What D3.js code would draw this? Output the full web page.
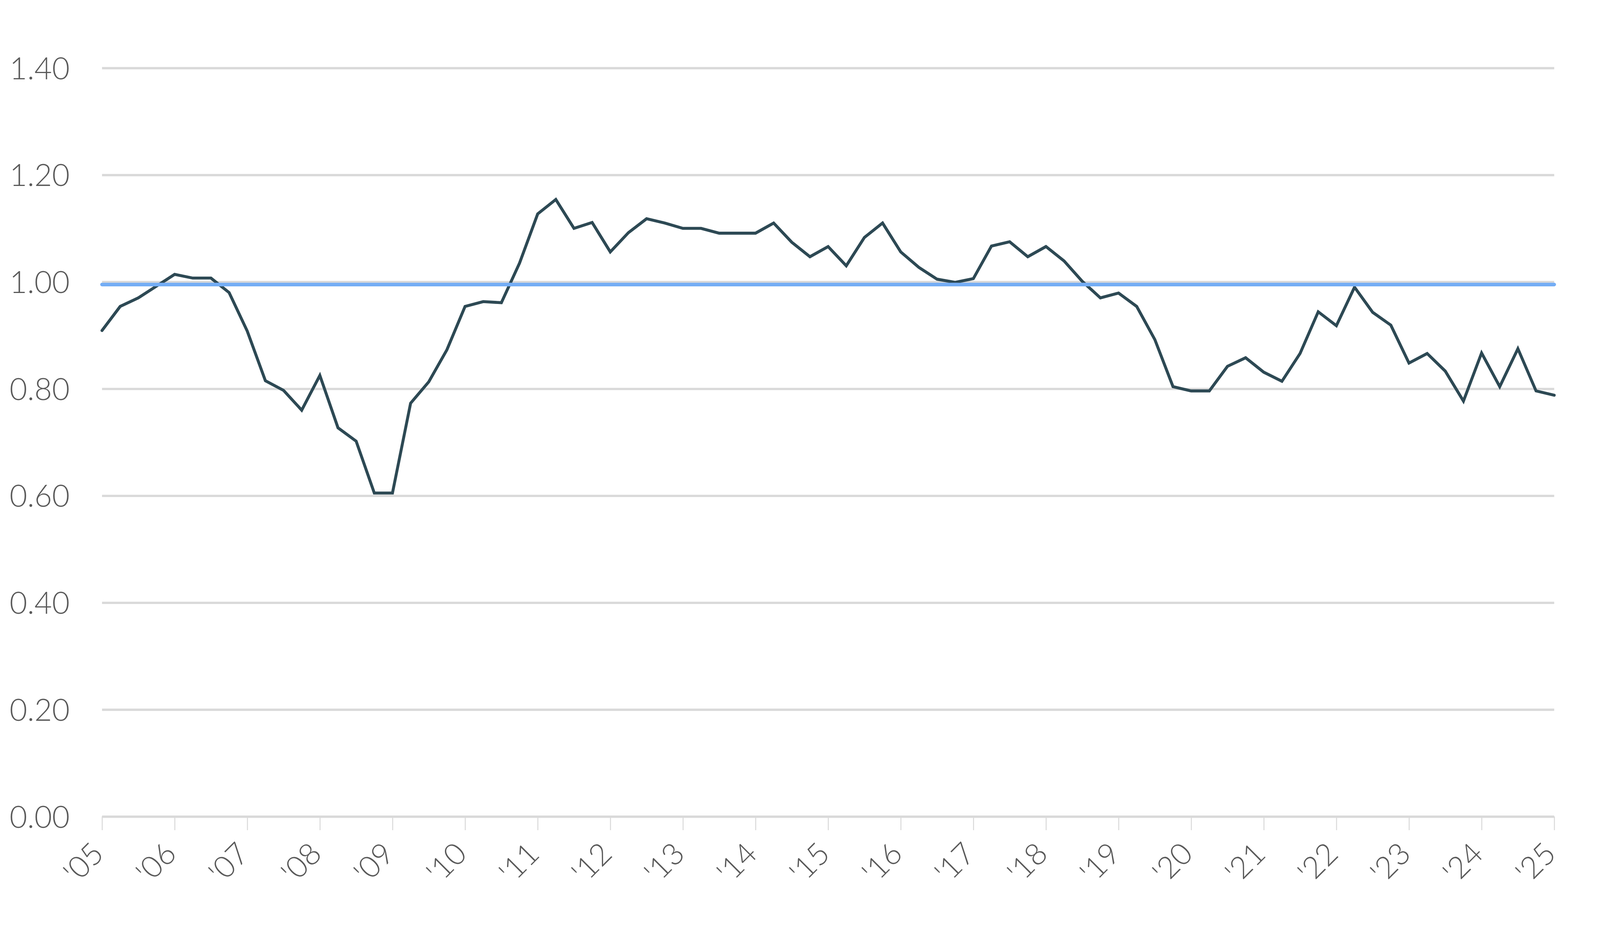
<!DOCTYPE html>
<html>
<head>
<meta charset="utf-8">
<script src="https://cdn.jsdelivr.net/npm/d3@7"></script>
<style>
  html, body { margin: 0; padding: 0; background: #fff; overflow: hidden; }
  svg { display: block; }
</style>
</head>
<body>
<div id="chart"></div>
<script>
// quarterly series, Q1 2005 .. Q1 2025
const startYear = 2005;
const values = [
  0.909, 0.954, 0.970, 0.992, 1.014, 1.007, 1.007, 0.980,
  0.908, 0.815, 0.797, 0.760, 0.825, 0.727, 0.702, 0.605,
  0.605, 0.773, 0.813, 0.873, 0.954, 0.963, 0.961, 1.035,
  1.127, 1.154, 1.100, 1.111, 1.056, 1.092, 1.118, 1.110,
  1.100, 1.100, 1.091, 1.091, 1.091, 1.110, 1.074, 1.047,
  1.066, 1.030, 1.083, 1.110, 1.056, 1.027, 1.005, 0.999,
  1.006, 1.067, 1.075, 1.047, 1.066, 1.039, 1.001, 0.970,
  0.979, 0.954, 0.892, 0.804, 0.796, 0.796, 0.842, 0.858,
  0.831, 0.814, 0.866, 0.944, 0.918, 0.990, 0.943, 0.919,
  0.848, 0.866, 0.833, 0.777, 0.867, 0.804, 0.875, 0.796,
  0.788
];
const benchmark = 0.995;
const yearTicks = d3.range(2005, 2026);
const yearLabels = ["'05", "'06", "'07", "'08", "'09", "'10", "'11", "'12", "'13", "'14",
  "'15", "'16", "'17", "'18", "'19", "'20", "'21", "'22", "'23", "'24", "'25"];
const yTicks = [0, 0.2, 0.4, 0.6, 0.8, 1.0, 1.2, 1.4];

// layout is worked out for a 5834x2401 page and scaled to the real window
// (the browser caps the width, so sx and sy can differ)
const W = window.innerWidth, H = window.innerHeight;
const sx = W / 5834, sy = H / 2401, s = Math.sqrt(sx * sy);
const margin = { top: 174 * sy, right: 167 * sx, bottom: 311 * sy, left: 372 * sx };
const width = W - margin.left - margin.right;
const height = H - margin.top - margin.bottom;

const svg = d3.select("#chart").append("svg")
  .attr("width", W)
  .attr("height", H);

const g = svg.append("g")
  .attr("transform", `translate(${margin.left},${margin.top})`);

const x = d3.scaleLinear().domain([2005, 2025]).range([0, width]);
const y = d3.scaleLinear().domain([0, 1.4]).range([height, 0]);

const font = "Lato, 'Open Sans', sans-serif";
const fontSize = 93 * s;

// y axis + gridlines
const yAxis = g.append("g")
  .call(d3.axisLeft(y).tickValues(yTicks).tickSize(-width).tickPadding(118 * sx)
    .tickFormat(d3.format(".2f")));
yAxis.select(".domain").remove();
yAxis.selectAll(".tick line")
  .attr("stroke", "#d9d9d9")
  .attr("stroke-width", 7 * s);
yAxis.selectAll(".tick text")
  .attr("fill", "#595959")
  .attr("dy", "0.36em")
  .style("font-family", font)
  .style("font-weight", 300)
  .style("font-size", fontSize + "px");

// x axis
const xAxis = g.append("g")
  .attr("transform", `translate(0,${height})`)
  .call(d3.axisBottom(x).tickValues(yearTicks).tickSize(35 * sy)
    .tickFormat((d, i) => yearLabels[i]));
xAxis.select(".domain").remove();
xAxis.selectAll(".tick line")
  .attr("stroke", "#d9d9d9")
  .attr("stroke-width", 3 * s);
xAxis.selectAll(".tick text")
  .attr("x", 0).attr("y", 0).attr("dy", 0)
  .attr("transform", `translate(${10 * s},${100 * sy}) rotate(-45)`)
  .attr("text-anchor", "end")
  .attr("fill", "#595959")
  .style("font-family", font)
  .style("font-weight", 300)
  .style("font-size", fontSize + "px");

// series line
const line = d3.line()
  .x((d, i) => x(startYear + i / 4))
  .y(d => y(d));

g.append("path")
  .datum(values)
  .attr("fill", "none")
  .attr("stroke", "#2d4954")
  .attr("stroke-width", 9 * s)
  .attr("stroke-linejoin", "miter")
  .attr("stroke-linecap", "round")
  .attr("d", line);

// benchmark line
g.append("path")
  .datum(x.domain())
  .attr("fill", "none")
  .attr("stroke", "#74adf5")
  .attr("stroke-width", 11 * s)
  .attr("stroke-linecap", "round")
  .attr("d", d3.line().x(d => x(d)).y(() => y(benchmark)));
</script>
</body>
</html>
